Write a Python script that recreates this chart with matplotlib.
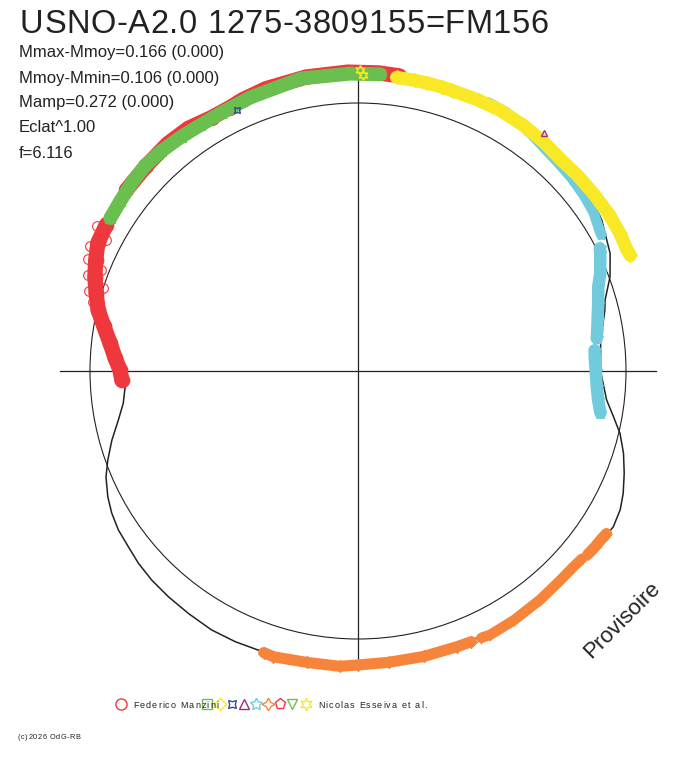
import numpy as np
import matplotlib
matplotlib.use("Agg")
import matplotlib.pyplot as plt
from matplotlib.patches import Circle
from matplotlib.font_manager import FontProperties, findfont, get_font

# ---------------- data (phase angle in degrees, radius in units of the reference circle) -------------
curve_theta = [-176.1, -172.2, -168.4, -164.3, -160.4, -157.2, -153.3, -150.0, -146.4, -142.6, -138.8,
               -134.6, -130.0, -125.0, -119.5, -114.4, -109.7, -100.0, -90.0, -80.0, -70.0, -60.0,
               -50.0, -42.0, -36.6, -33.9, -31.4, -27.9, -24.8, -21.0, -17.2, -13.4, -10.1, -6.65,
               0.0, 7.0, 13.9, 16.0, 20.5, 25.0, 31.8, 38.0, 46.0, 53.0, 61.5, 71.0, 84.0, 91.5,
               101.0, 111.5, 122.7, 131.9, 140.8, 148.4, 153.0, 158.8, 164.4, 170.6, 177.4]
curve_r = [0.871, 0.884, 0.913, 0.954, 0.991, 1.020, 1.045, 1.061, 1.073, 1.079, 1.089,
           1.096, 1.100, 1.104, 1.110, 1.109, 1.106, 1.101, 1.099, 1.091, 1.093, 1.095,
           1.091, 1.090, 1.100, 1.110, 1.116, 1.107, 1.090, 1.064, 1.037, 1.005, 0.968, 0.934,
           0.905, 0.912, 0.949, 0.959, 1.004, 1.038, 1.070, 1.090, 1.097, 1.104, 1.106, 1.108, 1.108, 1.106,
           1.104, 1.101, 1.093, 1.101, 1.093, 1.074, 1.067, 1.043, 1.005, 0.950, 0.903]

# Federico Manzini (red circles)
red_left_theta = [150.0, 153.8, 157.0, 160.3, 163.5, 166.8, 170.0, 173.6, 177.0, 179.8, 182.2]
red_left_r = [1.086, 1.082, 1.063, 1.043, 1.019, 0.996, 0.963, 0.931, 0.907, 0.888, 0.882]
red_open_theta = [151.0, 152.5, 155.0, 157.5, 158.5, 160.5, 162.0, 163.5, 165.5, 149.5, 154.0, 161.0]
red_open_r = [1.115, 1.058, 1.102, 1.092, 1.030, 1.070, 1.000, 1.045, 1.022, 1.097, 1.075, 1.030]
red_top_theta = [82.0, 86.0, 92.0, 100.0, 108.0, 113.0, 116.0, 120.0, 125.0, 130.0, 136.0, 142.0]
red_top_r = [1.112, 1.115, 1.116, 1.114, 1.108, 1.100, 1.093, 1.092, 1.105, 1.106, 1.100, 1.097]

# green squares
green_theta = [85.7, 91.5, 101.0, 111.5, 118.0, 122.7, 127.0, 131.9, 136.0, 140.8, 144.5, 148.3]
green_r = [1.110, 1.110, 1.112, 1.097, 1.090, 1.090, 1.095, 1.101, 1.104, 1.097, 1.090, 1.086]

# yellow diamonds (two runs)
yellow1_theta = [82.5, 79.0, 76.5, 73.5, 71.7]
yellow1_r = [1.105, 1.105, 1.105, 1.105, 1.104]
yellow2_theta = [71.2, 66.0, 61.5, 56.0, 51.0, 46.0, 42.0, 37.0, 32.0, 27.8, 24.2, 23.0]
yellow2_r = [1.104, 1.106, 1.108, 1.105, 1.100, 1.093, 1.097, 1.100, 1.104, 1.104, 1.101, 1.104]

# cyan stars (three runs)
cyan1_theta = [64.0, 60.0, 55.0, 50.0, 46.0, 42.0, 38.0, 34.0, 30.5, 29.3]
cyan1_r = [1.114, 1.112, 1.100, 1.084, 1.078, 1.074, 1.068, 1.060, 1.044, 1.040]
cyan2_theta = [26.9, 25.9, 22.0, 19.3, 15.5, 12.0, 9.5, 7.8]
cyan2_r = [1.012, 1.005, 0.975, 0.950, 0.930, 0.914, 0.905, 0.899]
cyan3_theta = [5.0, 2.7, 0.0, -3.8, -7.0, -9.8]
cyan3_r = [0.886, 0.885, 0.887, 0.893, 0.903, 0.918]

# orange stars (three runs)
orange1_theta = [-108.5, -106.5, -100.0, -93.5, -90.0, -84.0, -77.0, -70.3, -67.3]
orange1_r = [1.108, 1.112, 1.104, 1.104, 1.097, 1.093, 1.093, 1.093, 1.095]
orange2_theta = [-65.2, -63.4, -58.0, -51.5, -46.0, -42.4, -40.0]
orange2_r = [1.097, 1.101, 1.097, 1.091, 1.086, 1.086, 1.090]
orange3_theta = [-38.6, -36.6, -34.5, -33.2]
orange3_r = [1.097, 1.101, 1.104, 1.108]

# sparse other observers
blue_theta, blue_r = [114.9], [1.073]
purple_theta, purple_r = [51.95], [1.128]
ystar_theta, ystar_r = [89.0, 89.6], [1.105, 1.125]

observer_first = "Federico Manzini"
observer_last = "Nicolas Esseiva et al."
title = "USNO-A2.0 1275-3809155=FM156"
info_lines = ["Mmax-Mmoy=0.166 (0.000)", "Mmoy-Mmin=0.106 (0.000)", "Mamp=0.272 (0.000)",
              "Eclat^1.00", "f=6.116"]
copyright_text = "(c)2026 OdG-RB"
stamp = "Provisoire"

# ---------------- colours ----------------
RED = "#ef383e"
GREEN = "#6bbf4e"
YELLOW = "#f8e825"
CYAN = "#72cbdc"
ORANGE = "#f6843a"
BLUE = "#34489f"
PURPLE = "#a52a7c"
INK = "#222222"

W, H = 688, 768
CX, CY, RPX = 358, 371, 268

fig = plt.figure(figsize=(W / 100, H / 100), dpi=100)
ax = fig.add_axes([0, 0, 1, 1])
ax.set_xlim(-CX / RPX, (W - CX) / RPX)
ax.set_ylim(-(H - CY) / RPX, CY / RPX)
ax.axis("off")


def pol(theta, r):
    t = np.radians(np.asarray(theta, float))
    r = np.asarray(r, float)
    return r * np.cos(t), r * np.sin(t)


# reference circle and axes
ax.add_patch(Circle((0, 0), 1.0, fill=False, lw=0.8, ec=INK, zorder=1))
ax.plot([-1.112, 1.112], [0, 0], color=INK, lw=0.9, zorder=1)
ax.plot([0, 0], [-1.112, 1.112], color=INK, lw=0.9, zorder=1)

# fitted curve (closed)
cx, cy = pol(curve_theta + curve_theta[:1], curve_r + curve_r[:1])
ax.plot(cx, cy, color=INK, lw=1.1, zorder=2, solid_joinstyle="round")


def band(theta, r, color, marker, lw=9.0, ms=9.0, z=3):
    x, y = pol(theta, r)
    ax.plot(x, y, color=color, lw=lw, solid_capstyle="round", solid_joinstyle="round", zorder=z)
    ax.plot(x, y, ls="none", marker=marker, ms=ms, mfc=color, mec=color, mew=0.8, zorder=z)


band(red_top_theta, red_top_r, RED, "o", lw=11.0, ms=10, z=3)
band(red_left_theta, red_left_r, RED, "o", lw=11.0, ms=10.5, z=3)
xo, yo = pol(red_open_theta, red_open_r)
ax.plot(xo, yo, ls="none", marker="o", ms=7, mfc="none", mec=RED, mew=0.8, zorder=3)

band(green_theta, green_r, GREEN, "s", lw=10.0, ms=7.5, z=4)
band(cyan1_theta, cyan1_r, CYAN, (5, 1, 0), lw=7.5, ms=8, z=3)
band(cyan2_theta, cyan2_r, CYAN, (5, 1, 0), lw=9.0, ms=9.5, z=3)
band(cyan3_theta, cyan3_r, CYAN, (5, 1, 0), lw=9.0, ms=9.5, z=3)
band(yellow1_theta, yellow1_r, YELLOW, "D", lw=9.5, ms=7, z=4)
band(yellow2_theta, yellow2_r, YELLOW, "D", lw=9.5, ms=7, z=4)
band(orange1_theta, orange1_r, ORANGE, (4, 1, 0), lw=8.0, ms=9, z=3)
band(orange2_theta, orange2_r, ORANGE, (4, 1, 0), lw=7.5, ms=8, z=3)
band(orange3_theta, orange3_r, ORANGE, (4, 1, 0), lw=8.0, ms=8.5, z=3)

bx, by = pol(blue_theta, blue_r)
ax.plot(bx, by, ls="none", marker=(4, 1, 45), ms=6, mfc="none", mec=BLUE, mew=1.0, zorder=5)
px_, py_ = pol(purple_theta, purple_r)
ax.plot(px_, py_, ls="none", marker="^", ms=5, mfc="none", mec=PURPLE, mew=1.0, zorder=5)
sx, sy = pol(ystar_theta, ystar_r)
ax.plot(sx, sy, ls="none", marker=(6, 1, 0), ms=7, mfc="none", mec=YELLOW, mew=1.2, zorder=5)

# ---------------- texts ----------------
FONT = "Liberation Sans"


def ftext(x, y, s, **kw):
    fig.text(x / W, 1 - y / H, s, family=FONT, **kw)


def tracked(x, y, s, size, track, color=INK):
    """text with extra letter spacing (track in pixels)"""
    prop = FontProperties(family=FONT, size=size)
    font = get_font(findfont(prop))
    font.set_size(size, 100)
    pos = x
    for ch in s:
        if ch != " ":
            fig.text(pos / W, 1 - y / H, ch, fontproperties=prop, color=color,
                     va="baseline", ha="left")
        g = font.load_char(ord(ch))
        pos += g.linearHoriAdvance / 65536 + track


tracked(20, 33, title, 23.5, 0.6)
for i, line in enumerate(info_lines):
    ftext(19, 57.5 + 25 * i, line, fontsize=12, color=INK, va="baseline", ha="left")

ftext(622, 620, stamp, fontsize=16, color=INK, rotation=45, ha="center", va="center",
      rotation_mode="anchor")
tracked(18, 739, copyright_text, 5.3, 0.55)

# legend (overlay axes in pixel units)
lg = fig.add_axes([0, 0, 1, 1], facecolor="none")
lg.set_xlim(0, W)
lg.set_ylim(H, 0)
lg.axis("off")
leg_markers = ["o", "s", "D", (4, 1, 45), "^", (5, 1, 0), (4, 1, 0), "p", "v", (6, 1, 0)]
leg_colors = [RED, GREEN, YELLOW, BLUE, PURPLE, CYAN, ORANGE, RED, GREEN, YELLOW]
leg_x = [121, 207, 220, 232, 244, 256, 268, 280, 292, 306]
leg_ms = [8, 7, 6.5, 8, 7.5, 9, 9, 8, 7.5, 9]
for m, c, x, s in zip(leg_markers, leg_colors, leg_x, leg_ms):
    lg.plot([x], [704], ls="none", marker=m, ms=s, mfc="none", mec=c, mew=1.0, zorder=3)
tracked(133, 708, observer_first, 6.5, 1.1)
tracked(318, 708, observer_last, 6.5, 1.1)

fig.savefig("out.png", dpi=100, facecolor="white")
